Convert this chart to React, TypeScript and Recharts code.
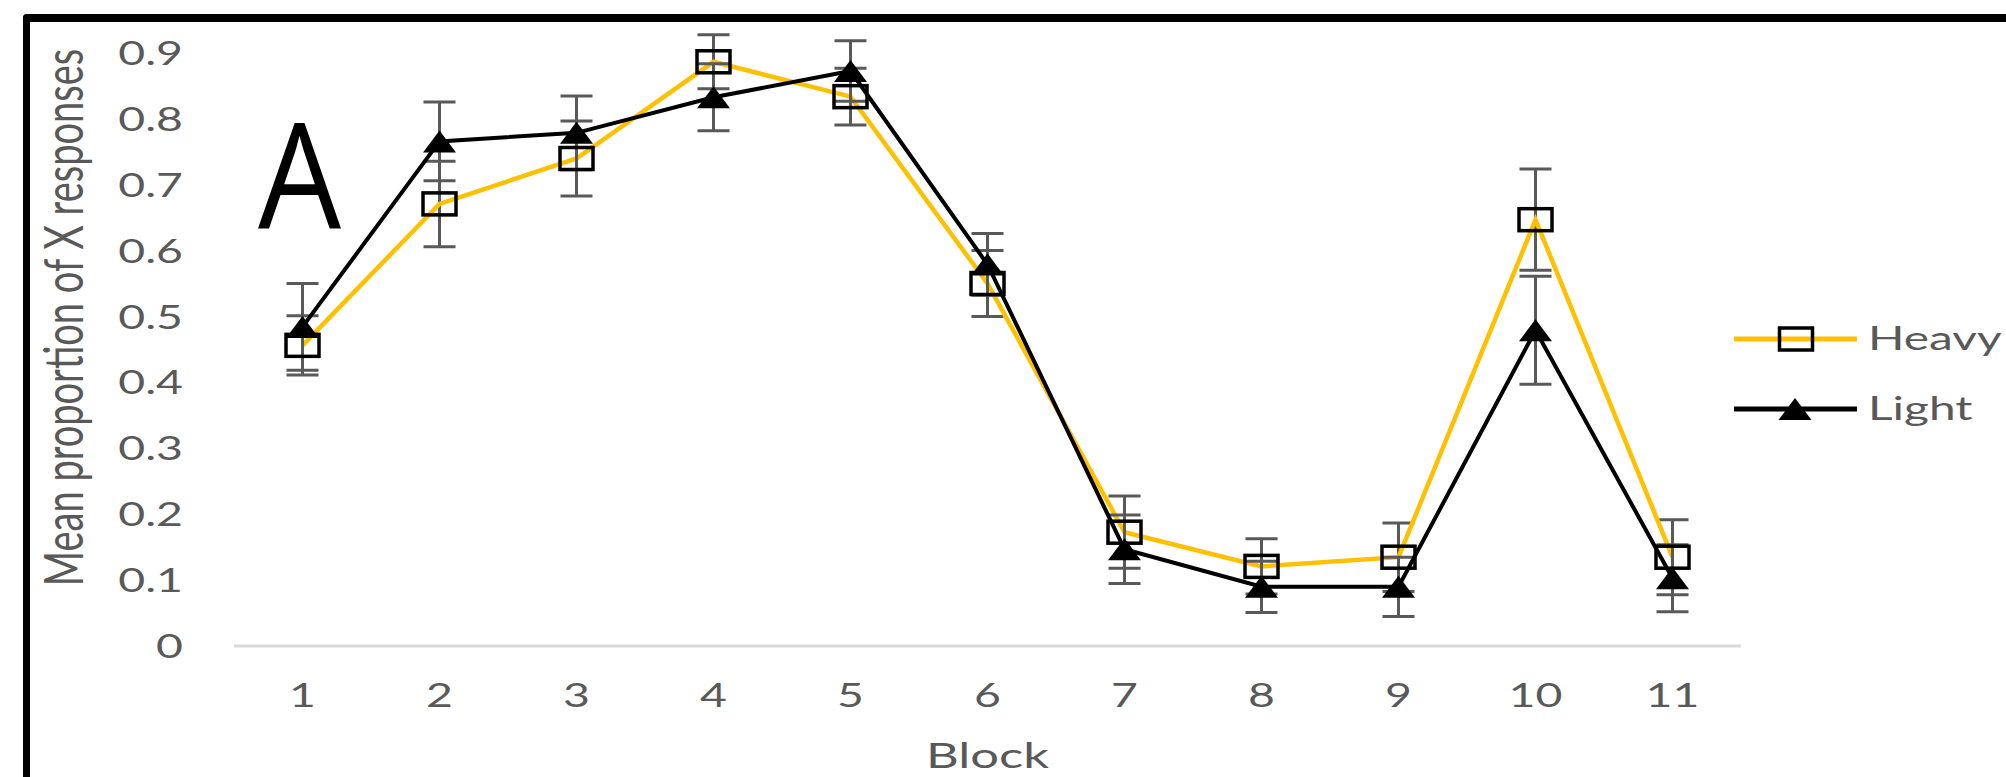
import React from "react"
import { LineChart, Line, XAxis, YAxis, ErrorBar, Legend } from "recharts"

// Block numbers on the category axis
const blocks = ["1", "2", "3", "4", "5", "6", "7", "8", "9", "10", "11"]

// Heavy group: mean proportion and error (± half length of bar)
const heavyMean = [0.457, 0.672, 0.741, 0.888, 0.835, 0.551, 0.173, 0.121, 0.135, 0.648, 0.135]
const heavyErr = [0.045, 0.065, 0.057, 0.041, 0.043, 0.05, 0.055, 0.042, 0.052, 0.077, 0.057]

// Light group
const lightMean = [0.485, 0.767, 0.78, 0.834, 0.874, 0.58, 0.147, 0.09, 0.09, 0.48, 0.103]
const lightErr = [0.066, 0.06, 0.056, 0.051, 0.046, 0.047, 0.052, 0.039, 0.045, 0.082, 0.051]

const yTicks = [0, 0.1, 0.2, 0.3, 0.4, 0.5, 0.6, 0.7, 0.8, 0.9]

const data = blocks.map((block, i) => ({
  block,
  heavy: heavyMean[i],
  heavyErr: heavyErr[i],
  light: lightMean[i],
  lightErr: lightErr[i],
}))

const GOLD = "#FFC000"
const TEXT = "#595959"
const FONT = "Lato"
const SX = 1.45 // the source picture is stretched sideways

function SquareDot(props: any) {
  const { cx, cy } = props
  if (cx == null || cy == null) return null
  return <rect x={cx - 16.5} y={cy - 11} width={33} height={22} fill="none" stroke="#000" strokeWidth={3.5} />
}

function TriangleDot(props: any) {
  const { cx, cy } = props
  if (cx == null || cy == null) return null
  return <path d={`M${cx},${cy - 11} L${cx + 16.5},${cy + 11} L${cx - 16.5},${cy + 11} Z`} fill="#000" />
}

function XTick(props: any) {
  const { x, y, payload } = props
  return (
    <text transform={`translate(${x},${y + 61}) scale(${SX},1)`} textAnchor="middle" fill={TEXT} fontSize={32} fontFamily={FONT}>
      {payload.value}
    </text>
  )
}

function YTick(props: any) {
  const { x, y, payload } = props
  return (
    <text transform={`translate(${x},${y + 11.5}) scale(${SX},1)`} textAnchor="end" fill={TEXT} fontSize={32} fontFamily={FONT}>
      {String(payload.value)}
    </text>
  )
}

function XTitle(props: any) {
  const vb = props.viewBox || { x: 0, y: 0, width: 0 }
  return (
    <text transform={`translate(${vb.x + vb.width / 2},${vb.y + 122}) scale(${SX},1)`} textAnchor="middle" fill={TEXT} fontSize={35} fontFamily={FONT}>
      Block
    </text>
  )
}

function YTitle(props: any) {
  const vb = props.viewBox || { x: 0, y: 0, height: 0 }
  return (
    <text
      transform={`translate(${vb.x + 83},${vb.y + vb.height / 2 - 16}) scale(${SX},1) rotate(-90)`}
      textAnchor="middle"
      fill={TEXT}
      fontSize={38}
      fontFamily={FONT}
    >
      Mean proportion of X responses
    </text>
  )
}

function LegendBox(props: any) {
  const items = props.payload ?? []
  return (
    <svg width={272} height={120} style={{ overflow: "visible", display: "block" }}>
      {items.map((entry: any, i: number) => {
        const cy = 23 + i * 70
        return (
          <g key={entry.value}>
            <line x1={0} x2={123} y1={cy} y2={cy} stroke={entry.color} strokeWidth={5} />
            {entry.dataKey === "heavy" ? <SquareDot cx={62} cy={cy} /> : <TriangleDot cx={61} cy={cy} />}
            <text transform={`translate(134,${cy + 11}) scale(${SX},1)`} fill={TEXT} fontSize={33} fontFamily={FONT}>
              {entry.value}
            </text>
          </g>
        )
      })}
    </svg>
  )
}

export default function App() {
  return (
    <div style={{ position: "absolute", left: 0, top: 0, width: 2006, height: 777, overflow: "hidden", background: "#fff" }}>
      <div
        style={{
          position: "absolute",
          left: 23,
          top: 14,
          width: 3000,
          height: 3000,
          borderTop: "8px solid #000",
          borderLeft: "7px solid #000",
          borderTopLeftRadius: 4,
        }}
      />
      <div style={{ position: "absolute", left: 0, top: 0 }}>
        <LineChart width={2006} height={777} data={data} margin={{ top: 21, right: 0, bottom: 0, left: 0 }}>
          <XAxis
            dataKey="block"
            interval={0}
            padding={{ left: 68.5, right: 68.5 }}
            axisLine={{ stroke: "#D9D9D9", strokeWidth: 3 }}
            tickLine={false}
            tickSize={0}
            tickMargin={0}
            height={131}
            tick={<XTick />}
            label={<XTitle />}
          />
          <YAxis
            width={234}
            domain={[0, 0.95]}
            ticks={yTicks}
            interval={0}
            axisLine={false}
            tickLine={false}
            tickSize={0}
            tickMargin={51}
            tick={<YTick />}
            label={<YTitle />}
          />
          <Legend
            layout="vertical"
            align="right"
            verticalAlign="middle"
            content={<LegendBox />}
            wrapperStyle={{ left: 1734, top: 316, width: 265, height: 120 }}
          />
          <Line
            dataKey="heavy"
            name="Heavy"
            type="linear"
            stroke={GOLD}
            strokeWidth={4.5}
            dot={<SquareDot />}
            activeDot={false}
            isAnimationActive={false}
          >
            <ErrorBar dataKey="heavyErr" direction="y" width={16} stroke={TEXT} strokeWidth={3} isAnimationActive={false} />
          </Line>
          <Line
            dataKey="light"
            name="Light"
            type="linear"
            stroke="#000"
            strokeWidth={4}
            dot={<TriangleDot />}
            activeDot={false}
            isAnimationActive={false}
          >
            <ErrorBar dataKey="lightErr" direction="y" width={16} stroke={TEXT} strokeWidth={3} isAnimationActive={false} />
          </Line>
        </LineChart>
      </div>
      <svg width={2006} height={777} style={{ position: "absolute", left: 0, top: 0, pointerEvents: "none" }}>
        <text transform="translate(258,228) scale(0.9,1)" fontSize={146} fontFamily="Open Sans" fill="#000">
          A
        </text>
      </svg>
    </div>
  )
}
